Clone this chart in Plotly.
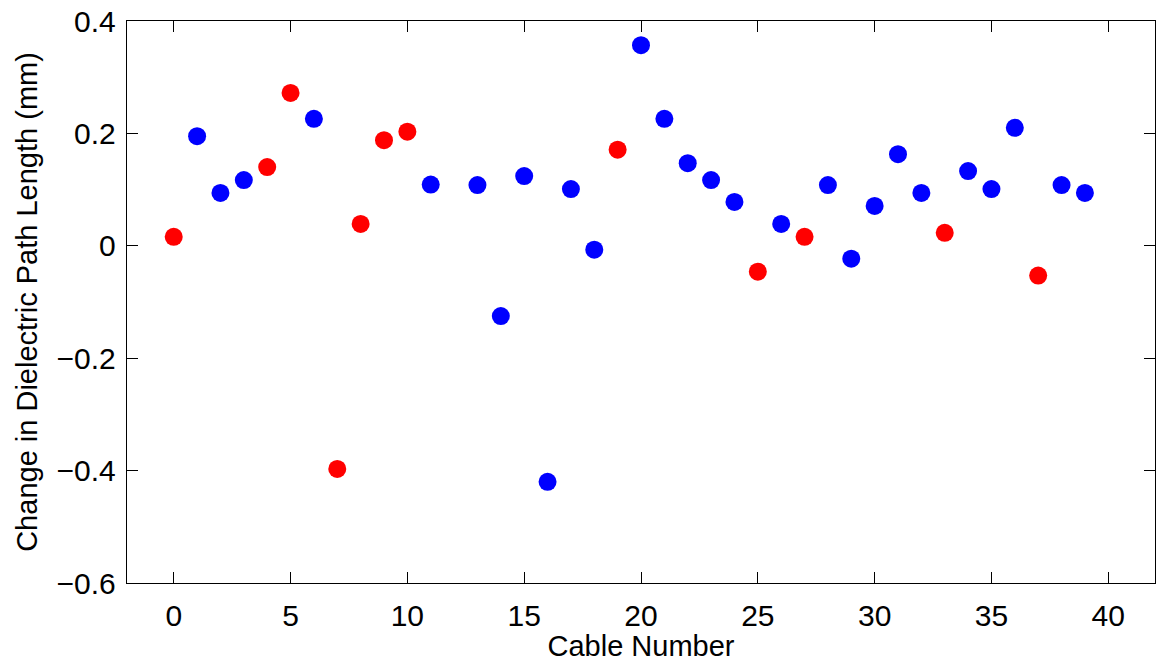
import plotly.graph_objects as go

# Change in dielectric path length per cable (mm), split into two groups
red_cables = [0, 4, 5, 7, 8, 9, 10, 19, 25, 27, 33, 37]
red_values = [0.016, 0.140, 0.272, -0.397, 0.039, 0.188, 0.203, 0.171, -0.046, 0.016, 0.023, -0.053]

blue_cables = [1, 2, 3, 6, 11, 13, 14, 15, 16, 17, 18, 20, 21, 22, 23, 24,
               26, 28, 29, 30, 31, 32, 34, 35, 36, 38, 39]
blue_values = [0.195, 0.094, 0.117, 0.226, 0.109, 0.108, -0.125, 0.124, -0.420, 0.101, -0.007,
               0.357, 0.226, 0.147, 0.117, 0.078, 0.039, 0.108, -0.023, 0.071, 0.163,
               0.094, 0.133, 0.101, 0.210, 0.108, 0.094]

x_ticks = [0, 5, 10, 15, 20, 25, 30, 35, 40]
y_ticks = [-0.6, -0.4, -0.2, 0, 0.2, 0.4]
y_tick_text = ["\u22120.6", "\u22120.4", "\u22120.2", "0", "0.2", "0.4"]

family = "Liberation Sans, Arial, Helvetica, sans-serif"
tick_font = dict(family=family, size=30, color="black")
title_font = dict(family=family, size=29, color="black")

fig = go.Figure()
fig.add_trace(go.Scatter(x=blue_cables, y=blue_values, mode="markers",
                         marker=dict(color="#0000ff", size=18, line=dict(width=0)),
                         showlegend=False))
fig.add_trace(go.Scatter(x=red_cables, y=red_values, mode="markers",
                         marker=dict(color="#ff0000", size=18, line=dict(width=0)),
                         showlegend=False))

axis_common = dict(showline=True, linecolor="black", linewidth=1.4, mirror="ticks",
                   ticks="inside", ticklen=11, tickwidth=1.3, tickcolor="black",
                   showgrid=False, zeroline=False, tickfont=tick_font)

fig.update_xaxes(range=[-2, 42], tickvals=x_ticks,
                 title=dict(text="Cable Number", font=title_font, standoff=4),
                 ticklabelstandoff=6, **axis_common)
fig.update_yaxes(range=[-0.6, 0.4], tickvals=y_ticks, ticktext=y_tick_text,
                 title=dict(text="Change in Dielectric Path Length (mm)", font=title_font, standoff=10),
                 ticklabelstandoff=4, **axis_common)

fig.update_layout(width=1156, height=662, margin=dict(l=127, r=1, t=21, b=79),
                  paper_bgcolor="white", plot_bgcolor="white", font=title_font)

fig.write_html("out.html")
